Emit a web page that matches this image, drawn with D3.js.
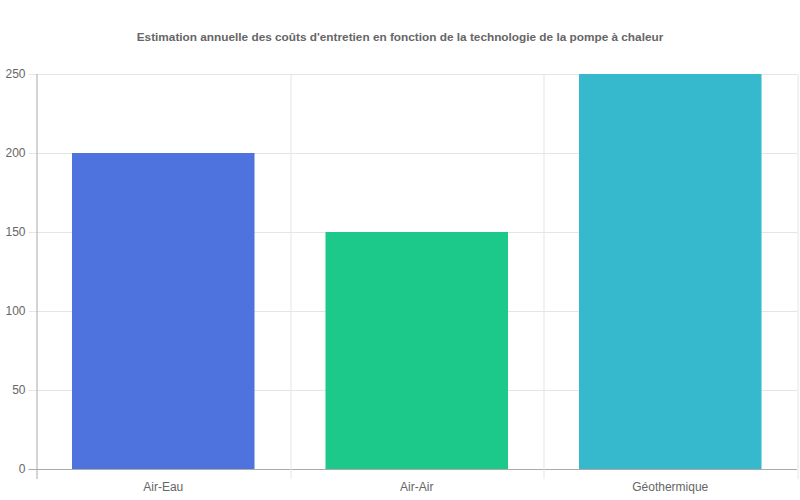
<!DOCTYPE html>
<html lang="fr">
<head>
    <title>Coûts d'entretien pompe à chaleur</title>
    <meta charset="utf-8">
    <script src="https://cdn.jsdelivr.net/npm/d3@7/dist/d3.min.js" type="text/javascript"></script>
    <style>
        body { margin: 0; background: #fff; }
        svg text { font-family: "Liberation Sans", Arial, Helvetica, sans-serif; fill: #666; }
    </style>
</head>
<body>
<div id='chart'><svg width="800" height="500"></svg></div>
<script>

var title = "Estimation annuelle des coûts d'entretien en fonction de la technologie de la pompe à chaleur";
var categories = ['Air-Eau', 'Air-Air', 'Géothermique'];
var values = [200, 150, 250];
var colors = ['#4e73df', '#1cc88a', '#36b9cc'];
var yTicks = [0, 50, 100, 150, 200, 250];

var margin = {top: 74, right: 3, bottom: 31, left: 36.5};
var width = 800 - margin.left - margin.right;
var height = 500 - margin.top - margin.bottom;

var svg = d3.select('#chart svg');

svg.append('text')
    .attr('x', 400)
    .attr('y', 41)
    .attr('text-anchor', 'middle')
    .style('font-size', '11.8px')
    .style('font-weight', 'bold')
    .text(title);

var g = svg.append('g')
    .attr('transform', 'translate(' + margin.left + ',' + margin.top + ')');

var x = d3.scaleBand()
    .domain(categories)
    .range([0, width])
    .paddingInner(0)
    .paddingOuter(0);

var y = d3.scaleLinear()
    .domain([0, 250])
    .range([height, 0]);

// horizontal grid
g.append('g')
    .selectAll('line')
    .data(yTicks)
    .enter().append('line')
    .attr('x1', -8)
    .attr('x2', width)
    .attr('y1', function(d) { return Math.round(y(d)) + 0.5; })
    .attr('y2', function(d) { return Math.round(y(d)) + 0.5; })
    .attr('stroke', function(d) { return d == 0 ? '#aaa' : '#e5e5e5'; })
    .attr('stroke-width', 1);

// vertical grid at band edges
var edges = categories.map(function(c) { return x(c); }).concat([width]);
g.append('g')
    .selectAll('line')
    .data(edges)
    .enter().append('line')
    .attr('x1', function(d) { return Math.round(d) + 0.5; })
    .attr('x2', function(d) { return Math.round(d) + 0.5; })
    .attr('y1', 0)
    .attr('y2', height + 10)
    .attr('stroke', function(d, i) { return i == 0 ? '#aaa' : '#e5e5e5'; })
    .attr('stroke-width', 1);

// bars
var barW = x.bandwidth() * 0.72;
g.append('g')
    .selectAll('rect')
    .data(values)
    .enter().append('rect')
    .attr('x', function(d, i) { return x(categories[i]) + (x.bandwidth() - barW) / 2; })
    .attr('y', function(d) { return y(d); })
    .attr('width', barW)
    .attr('height', function(d) { return height - y(d); })
    .attr('fill', function(d, i) { return colors[i]; });

// y labels
g.append('g')
    .selectAll('text')
    .data(yTicks)
    .enter().append('text')
    .attr('x', -11)
    .attr('y', function(d) { return y(d); })
    .attr('dy', '0.35em')
    .attr('text-anchor', 'end')
    .style('font-size', '12px')
    .text(function(d) { return d; });

// x labels
g.append('g')
    .selectAll('text')
    .data(categories)
    .enter().append('text')
    .attr('x', function(d) { return x(d) + x.bandwidth() / 2; })
    .attr('y', height + 22)
    .attr('text-anchor', 'middle')
    .style('font-size', '12px')
    .text(function(d) { return d; });

</script>
</body>
</html>
